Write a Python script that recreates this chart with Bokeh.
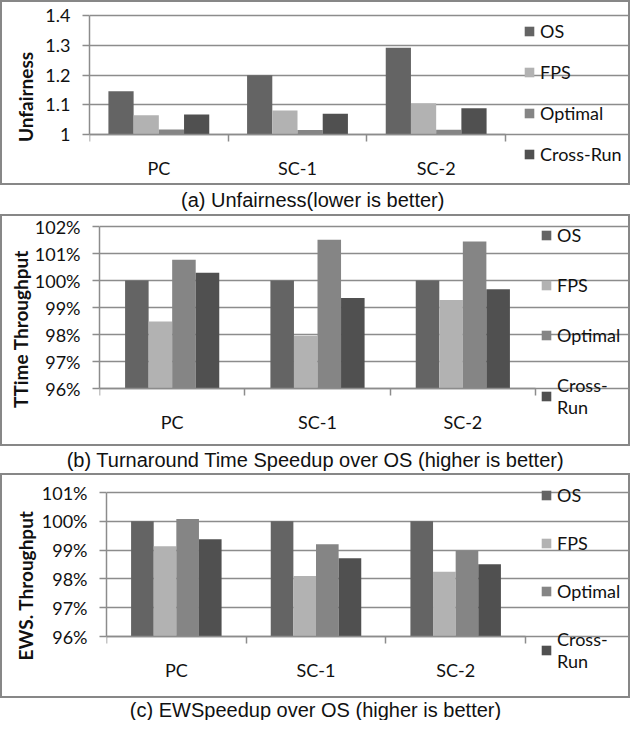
from bokeh.plotting import figure
from bokeh.models import (FixedTicker, NumeralTickFormatter, Label, Legend, LegendItem, Range1d)
from bokeh.embed import file_html
from bokeh.resources import INLINE

# ---------------- data ----------------
categories = ["PC", "SC-1", "SC-2"]
series_names = ["OS", "FPS", "Optimal", "Cross-Run"]
series_names_wrapped = ["OS", "FPS", "Optimal", "Cross-\nRun"]
colors = ["#646464", "#b2b2b2", "#858585", "#505050"]

unfair_os = [1.145, 1.199, 1.292]
unfair_fps = [1.065, 1.081, 1.105]
unfair_opt = [1.017, 1.015, 1.016]
unfair_cr = [1.067, 1.070, 1.088]
unfair_ticks = [1.0, 1.1, 1.2, 1.3, 1.4]

ttime_os = [1.000, 1.000, 1.000]
ttime_fps = [0.9848, 0.9795, 0.9928]
ttime_opt = [1.0077, 1.0151, 1.0144]
ttime_cr = [1.0029, 0.9935, 0.9968]
ttime_ticks = [0.96, 0.97, 0.98, 0.99, 1.00, 1.01, 1.02]

ews_os = [1.000, 1.000, 1.000]
ews_fps = [0.9913, 0.9810, 0.9825]
ews_opt = [1.0008, 0.9920, 0.9898]
ews_cr = [0.9938, 0.9872, 0.9851]
ews_ticks = [0.96, 0.97, 0.98, 0.99, 1.00, 1.01]

captions = ["(a)  Unfairness(lower is better)",
            "(b) Turnaround Time Speedup over OS (higher is better)",
            "(c) EWSpeedup over OS (higher is better)"]

W = 630
GRID = "#8c8c8c"
TXT = "#111111"
BOX_STYLE = {"outline": "2px solid #878787", "outline-offset": "-2px"}


def make_panel(values, ticks, fmt, ylabel, legend_labels, H, fl, fr, ft, fb, bar_w,
               lab_standoff, top, mb, leg_left, leg_bottom, leg_spacing):
    n = len(categories)
    mr = 2
    # plotting area: pixels fl..fr / ft..fb; the frame is larger so that the legend and
    # the category labels lie inside it
    x_end = n * (W - mr - fl) / (fr - fl)
    y_per_px = (ticks[-1] - ticks[0]) / (fb - ft)
    y_end = ticks[-1] + (ft - top) * y_per_px
    y_start = ticks[0] - ((H - mb) - fb) * y_per_px
    p = figure(width=W, height=H, x_range=Range1d(0, x_end),
               y_range=Range1d(y_start, y_end), output_backend="svg",
               toolbar_location=None, min_border_left=fl, min_border_right=mr,
               min_border_top=top, min_border_bottom=mb, styles=BOX_STYLE)
    p.outline_line_color = None
    p.background_fill_color = None
    p.border_fill_color = None
    p.xgrid.visible = False
    p.ygrid.grid_line_color = GRID
    p.ygrid.grid_line_width = 1.5
    p.ygrid.ticker = FixedTicker(ticks=ticks)
    p.ygrid.bounds = (0, n)

    renderers = []
    for j, vals in enumerate(values):
        xs = [i + 0.5 + (j - (len(values) - 1) / 2) * bar_w for i in range(n)]
        r = p.vbar(x=xs, top=vals, bottom=ticks[0], width=bar_w,
                   fill_color=colors[j], line_color=None)
        renderers.append(r)

    xa = p.xaxis[0]
    centers = [i + 0.5 for i in range(n)]
    xa.fixed_location = ticks[0]
    xa.ticker = FixedTicker(ticks=centers, minor_ticks=list(range(n + 1)))
    xa.major_label_overrides = {c: lab for c, lab in zip(centers, categories)}
    xa.bounds = (0, n)
    xa.major_tick_out = 0
    xa.major_tick_in = 0
    xa.minor_tick_out = 7
    xa.minor_tick_in = 0
    xa.minor_tick_line_color = GRID
    xa.minor_tick_line_width = 1.5
    xa.axis_line_color = GRID
    xa.axis_line_width = 1.5
    xa.major_label_standoff = 15
    xa.major_label_text_font = "Lato"
    xa.major_label_text_font_size = "18px"
    xa.major_label_text_color = TXT

    ya = p.yaxis[0]
    ya.ticker = FixedTicker(ticks=ticks)
    ya.formatter = NumeralTickFormatter(format=fmt)
    ya.bounds = (ticks[0], ticks[-1])
    ya.major_tick_out = 7
    ya.major_tick_in = 0
    ya.minor_tick_out = 0
    ya.minor_tick_in = 0
    ya.major_tick_line_color = GRID
    ya.major_tick_line_width = 1.5
    ya.axis_line_color = GRID
    ya.axis_line_width = 1.5
    ya.major_label_standoff = 12
    ya.major_label_text_font = "Lato"
    ya.major_label_text_font_size = "18px"
    ya.major_label_text_color = TXT
    ya.axis_label = ylabel
    ya.axis_label_text_font = "Lato"
    ya.axis_label_text_font_size = "19px"
    ya.axis_label_text_font_style = "bold"
    ya.axis_label_text_color = TXT
    ya.axis_label_standoff = lab_standoff

    legend = Legend(items=[LegendItem(label=lab, renderers=[r])
                           for lab, r in zip(legend_labels, renderers)],
                    location=(leg_left - fl, (H - mb) - leg_bottom), orientation="vertical",
                    padding=0, margin=0, spacing=leg_spacing, label_height=22,
                    glyph_height=12, glyph_width=12, label_standoff=5,
                    label_text_font="Lato", label_text_font_size="18px",
                    label_text_color=TXT, border_line_color=None, background_fill_alpha=0)
    p.add_layout(legend)
    return p


def make_caption(text, H):
    c = figure(width=W, height=H, x_range=Range1d(0, 1), y_range=Range1d(0, 1),
               output_backend="svg", toolbar_location=None, min_border=0,
               x_axis_location=None, y_axis_location=None)
    c.grid.visible = False
    c.outline_line_color = None
    c.background_fill_color = None
    c.border_fill_color = None
    c.add_layout(Label(x=0.5, y=0.5, text=text, text_align="center", text_baseline="middle",
                       text_font="Liberation Sans", text_font_size="20px", text_color=TXT))
    return c


pa = make_panel([unfair_os, unfair_fps, unfair_opt, unfair_cr], unfair_ticks, "0.[0]",
                "Unfairness", series_names, H=185, fl=89, fr=505, ft=15, fb=134,
                bar_w=1 / 5.5, lab_standoff=5, top=12, mb=4,
                leg_left=523, leg_bottom=165, leg_spacing=19)
ca = make_caption(captions[0], 29)

pb = make_panel([ttime_os, ttime_fps, ttime_opt, ttime_cr], ttime_ticks, "0%",
                "TTime Throughput", series_names_wrapped, H=232, fl=99, fr=535, ft=12,
                fb=174, bar_w=0.162, lab_standoff=0, top=1, mb=4,
                leg_left=540, leg_bottom=204, leg_spacing=28)
cb = make_caption(captions[1], 27)

pc = make_panel([ews_os, ews_fps, ews_opt, ews_cr], ews_ticks, "0%",
                "EWS. Throughput", series_names_wrapped, H=225, fl=106, fr=525, ft=19,
                fb=163, bar_w=0.162, lab_standoff=2, top=3, mb=4,
                leg_left=540, leg_bottom=199, leg_spacing=26)
cc = make_caption(captions[2], 22)

# each panel and caption is its own root, so that their frames are laid out independently
open("out.html", "w").write(file_html([pa, ca, pb, cb, pc, cc], INLINE))
